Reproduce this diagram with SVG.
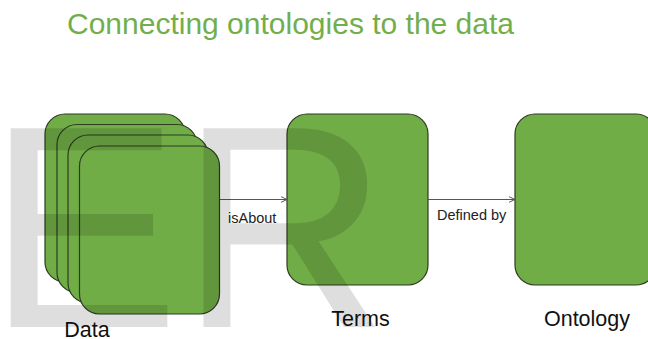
<svg xmlns="http://www.w3.org/2000/svg" width="648" height="339" viewBox="0 0 648 339">
  <style>
    .card { fill: #70ad47; stroke: #2e3b22; stroke-width: 1.2; }
    .title { font-family: "Liberation Sans", Arial, sans-serif; font-size: 30px; fill: #72ae4c; }
    .edge { stroke: #555; stroke-width: 1.2; fill: none; }
    .elabel { font-family: "Liberation Sans", Arial, sans-serif; font-size: 14.5px; fill: #222; }
    .nlabel { font-family: "Liberation Sans", Arial, sans-serif; font-size: 21.5px; fill: #111; text-anchor: middle; }
    .mark { font-family: "Liberation Sans", Arial, sans-serif; font-size: 289px; fill: #000; fill-opacity: 0.13; }
  </style>
  <defs>
    <marker id="arrow" viewBox="0 0 10 10" refX="9.5" refY="5" markerWidth="7" markerHeight="7" markerUnits="userSpaceOnUse" orient="auto">
      <path d="M1,1 L9.5,5 L1,9" fill="none" stroke="#555" stroke-width="1.4"/>
    </marker>
  </defs>
  <rect width="648" height="339" fill="#fff"/>

  <text class="title" x="67" y="34">Connecting ontologies to the data</text>

  <g id="data">
    <rect class="card" x="45" y="114" width="140" height="168" rx="20"/>
    <rect class="card" x="57" y="124.5" width="140" height="168" rx="20"/>
    <rect class="card" x="68" y="135" width="140" height="168" rx="20"/>
    <rect class="card" x="79.5" y="146" width="140" height="168" rx="20"/>
    <text class="nlabel" x="87" y="337">Data</text>
  </g>

  <g id="terms">
    <rect class="card" x="287" y="114" width="141" height="171" rx="20"/>
    <text class="nlabel" x="360.5" y="326">Terms</text>
  </g>

  <g id="ontology">
    <rect class="card" x="515" y="114" width="141" height="171" rx="20"/>
    <text class="nlabel" x="587" y="326">Ontology</text>
  </g>

  <g id="connectors">
    <line class="edge" x1="220" y1="199.5" x2="287" y2="199.5" marker-end="url(#arrow)"/>
    <text class="elabel" x="228" y="222.5">isAbout</text>
    <line class="edge" x1="428" y1="199.5" x2="515" y2="199.5" marker-end="url(#arrow)"/>
    <text class="elabel" x="437" y="220">Defined by</text>
  </g>

  <!-- translucent lettering laid over the whole figure -->
  <g id="watermark">
    <text class="mark" x="-13" y="327">ER</text>
  </g>
</svg>
